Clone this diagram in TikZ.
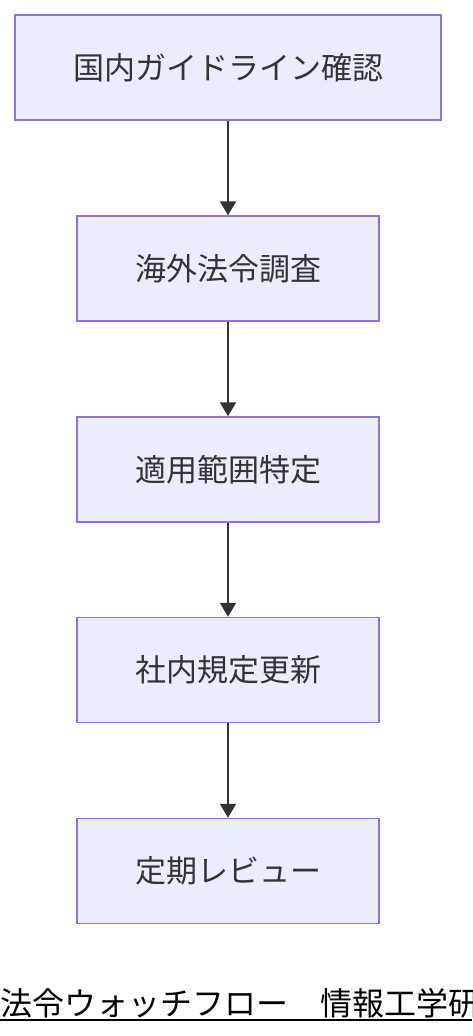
\documentclass[tikz,border=0pt]{standalone}
\usepackage{fontspec}
\setmainfont{Noto Sans CJK JP}
\newfontfamily\cjk{Noto Sans CJK JP}
\usetikzlibrary{arrows.meta}
\definecolor{boxfill}{HTML}{ECECFF}
\definecolor{boxline}{HTML}{9370DB}
\definecolor{ink}{HTML}{333333}
\tikzset{
  flowbox/.style={draw=boxline, fill=boxfill, line width=1.5pt, minimum height=105pt, text=ink, font=\cjk\fontsize{31}{34}\selectfont, inner sep=0pt, anchor=center},
  flowarrow/.style={draw=ink, line width=2pt, -{Triangle[length=14pt,width=16pt]}}
}
\begin{document}
\begin{tikzpicture}[x=1pt,y=-1pt]
\useasboundingbox[fill=white] (0,0) rectangle (472,1036);
\node[flowbox, minimum width=426pt] (n1) at (228,67.5) {国内ガイドライン確認};
\node[flowbox, minimum width=302pt] (n2) at (228,268.5) {海外法令調査};
\node[flowbox, minimum width=302pt] (n3) at (228,469.5) {適用範囲特定};
\node[flowbox, minimum width=302pt] (n4) at (228,670) {社内規定更新};
\node[flowbox, minimum width=302pt] (n5) at (228,871) {定期レビュー};
\draw[flowarrow] (n1) -- (n2);
\draw[flowarrow] (n2) -- (n3);
\draw[flowarrow] (n3) -- (n4);
\draw[flowarrow] (n4) -- (n5);
\node[anchor=west, inner sep=0pt, font=\cjk\fontsize{32}{34}\selectfont, text=black] (title) at (0,1003) {法令ウォッチフロー　情報工学研};
\coordinate (ul1) at (0,1020);
\coordinate (ul2) at (472,1020);
\draw[black, line width=2pt] (ul1) -- (ul2);
\end{tikzpicture}
\end{document}
